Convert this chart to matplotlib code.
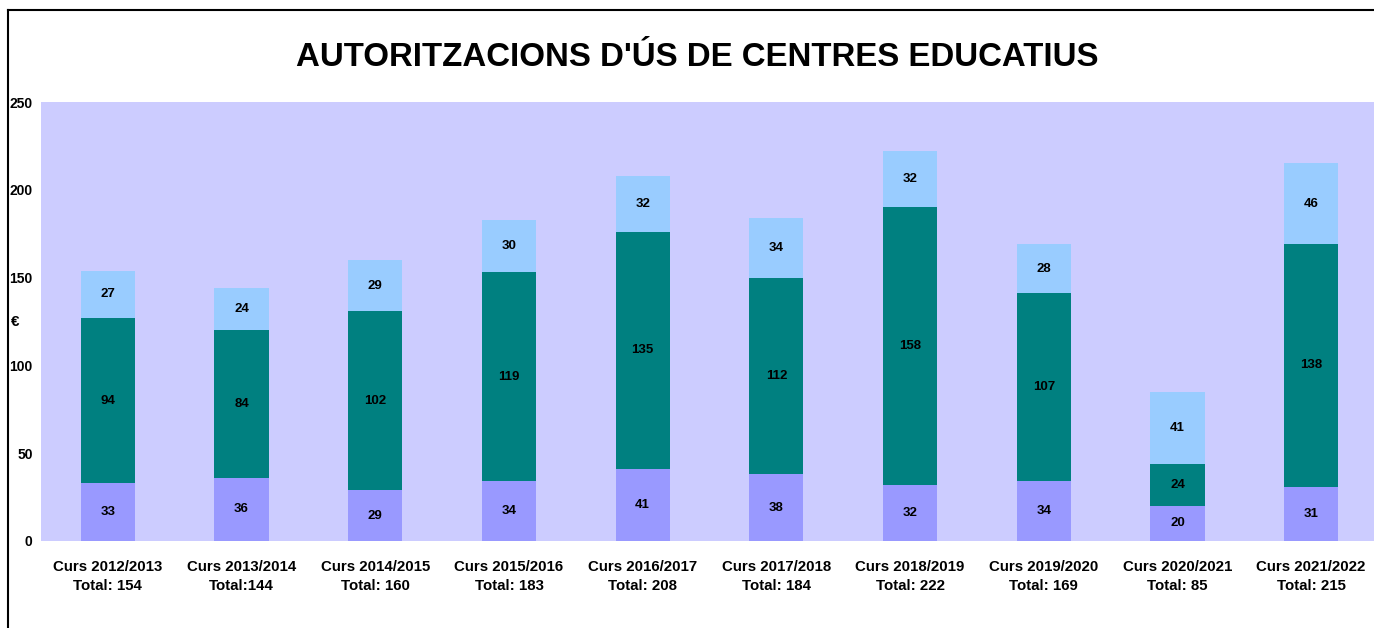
import matplotlib
matplotlib.use("Agg")
import matplotlib.pyplot as plt
from matplotlib.lines import Line2D
import numpy as np

plt.rcParams['font.family'] = ['Liberation Sans', 'DejaVu Sans']

courses = ["Curs 2012/2013", "Curs 2013/2014", "Curs 2014/2015", "Curs 2015/2016",
           "Curs 2016/2017", "Curs 2017/2018", "Curs 2018/2019", "Curs 2019/2020",
           "Curs 2020/2021", "Curs 2021/2022"]
total_labels = ["Total: 154", "Total:144", "Total: 160", "Total: 183", "Total: 208",
                "Total: 184", "Total: 222", "Total: 169", "Total: 85", "Total: 215"]
bottom_vals = [33, 36, 29, 34, 41, 38, 32, 34, 20, 31]
middle_vals = [94, 84, 102, 119, 135, 112, 158, 107, 24, 138]
top_vals = [27, 24, 29, 30, 32, 34, 32, 28, 41, 46]
yticks = [0, 50, 100, 150, 200, 250]

W, H = 1374, 628
fig = plt.figure(figsize=(W / 100, H / 100), dpi=100)
ax = fig.add_axes([41 / W, 1 - 541 / H, (1378 - 41) / W, (541 - 102) / H])
ax.set_facecolor('#CCCCFF')

x = np.arange(len(courses))
bw = 0.405
b1 = np.array(bottom_vals)
b2 = np.array(middle_vals)
b3 = np.array(top_vals)
ax.bar(x, b1, bw, color='#9999FF')
ax.bar(x, b2, bw, bottom=b1, color='#008080')
ax.bar(x, b3, bw, bottom=b1 + b2, color='#99CCFF')

for i in range(len(x)):
    for base, v in ((0, b1[i]), (b1[i], b2[i]), (b1[i] + b2[i], b3[i])):
        ax.text(x[i], base + v / 2, str(v), ha='center', va='center',
                fontsize=9.5, fontweight='bold', color='black')

ax.set_xlim(-0.5, len(courses) - 0.5)
ax.set_ylim(0, 250)
ax.set_yticks(yticks)
ax.set_yticklabels([str(t) for t in yticks], fontsize=10, fontweight='bold')
ax.set_xticks(x)
ax.set_xticklabels([f"{c}\n{t}" for c, t in zip(courses, total_labels)],
                   fontsize=10.8, fontweight='bold', linespacing=1.45)
ax.tick_params(axis='both', length=0)
ax.tick_params(axis='y', pad=6)
ax.tick_params(axis='x', pad=14)
for s in ax.spines.values():
    s.set_visible(False)

fig.text(697 / W, 1 - 57 / H, "AUTORITZACIONS D'ÚS DE CENTRES EDUCATIUS",
         ha='center', va='center', fontsize=23.8, fontweight='bold')
fig.text(15 / W, 1 - 322 / H, "€", ha='center', va='center',
         fontsize=11, fontweight='bold')

fig.add_artist(Line2D([8 / W, 1], [1 - 10 / H, 1 - 10 / H], transform=fig.transFigure,
                      color='black', lw=1.5))
fig.add_artist(Line2D([8 / W, 8 / W], [0, 1 - 10 / H], transform=fig.transFigure,
                      color='black', lw=1.5))

fig.savefig('out.png', dpi=100)
